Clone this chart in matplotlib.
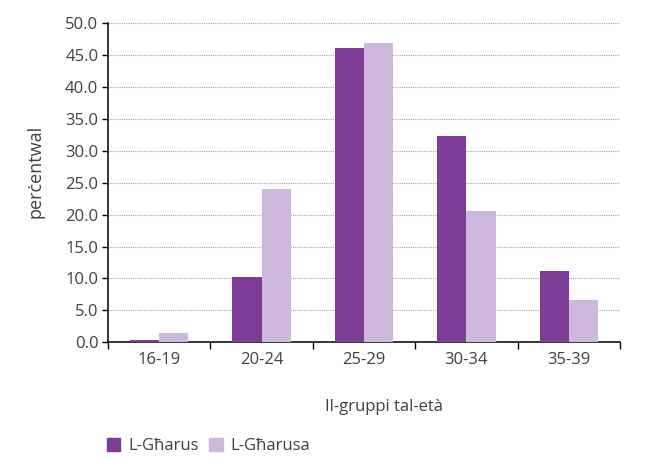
import numpy as np
import matplotlib
matplotlib.use("Agg")
import matplotlib.pyplot as plt
from matplotlib.patches import Patch

# data
age_groups = ["16-19", "20-24", "25-29", "30-34", "35-39"]
gharus = [0.3, 10.2, 46.2, 32.4, 11.1]
gharusa = [1.4, 24.1, 46.9, 20.6, 6.7]
series_names = ["L-Għarus", "L-Għarusa"]

DARK = "#7E3C96"
LIGHT = "#CBB8DA"
TEXT = "#404040"

plt.rcParams["font.family"] = ["Open Sans", "DejaVu Sans"]


def main():
    fig = plt.figure(figsize=(6.68, 4.57), dpi=100)
    ax = fig.add_axes([0.1617, 0.251, 0.7663, 0.698])

    x = np.arange(len(age_groups))
    w = 0.285
    ax.bar(x - w / 2, gharus, width=w, color=DARK, zorder=3)
    ax.bar(x + w / 2, gharusa, width=w, color=LIGHT, zorder=3)

    ax.set_xlim(-0.5, len(age_groups) - 0.5)
    ax.set_ylim(0, 50)
    ax.set_yticks(np.arange(0, 50.1, 5))
    ax.set_yticklabels([f"{v:.1f}" for v in np.arange(0, 50.1, 5)])
    ax.set_xticks(x)
    ax.set_xticklabels(age_groups)
    ax.set_xticks(np.arange(-0.5, len(age_groups)), minor=True)

    ax.tick_params(axis="x", which="major", length=0, pad=7, labelsize=12, labelcolor=TEXT)
    ax.tick_params(axis="x", which="minor", length=5, width=1, direction="out")
    ax.tick_params(axis="y", length=4, width=1, direction="out", pad=3, labelsize=12, labelcolor=TEXT)

    ax.yaxis.grid(True, color="#a8a8a8", linestyle=(0, (1, 1)), linewidth=0.8, zorder=0)
    for s in ["top", "right"]:
        ax.spines[s].set_visible(False)
    for s in ["left", "bottom"]:
        ax.spines[s].set_linewidth(1.1)
        ax.spines[s].set_color("black")

    fig.text(35 / 668, 1 - 171 / 457, "perċentwal", rotation=90, ha="center", va="center",
             fontsize=13, color=TEXT)
    fig.text(384 / 668, 1 - 407 / 457, "Il-gruppi tal-età", ha="center", va="center",
             fontsize=12, color=TEXT)

    handles = [Patch(color=DARK), Patch(color=LIGHT)]
    fig.legend(handles, series_names, loc="center left", bbox_to_anchor=(92 / 668, 1 - 446 / 457),
               ncol=2, frameon=False, fontsize=12, handlelength=0.8, handleheight=0.8,
               handletextpad=0.5, columnspacing=0.6, labelcolor=TEXT)

    fig.savefig("out.png", dpi=100)


if __name__ == "__main__":
    main()
